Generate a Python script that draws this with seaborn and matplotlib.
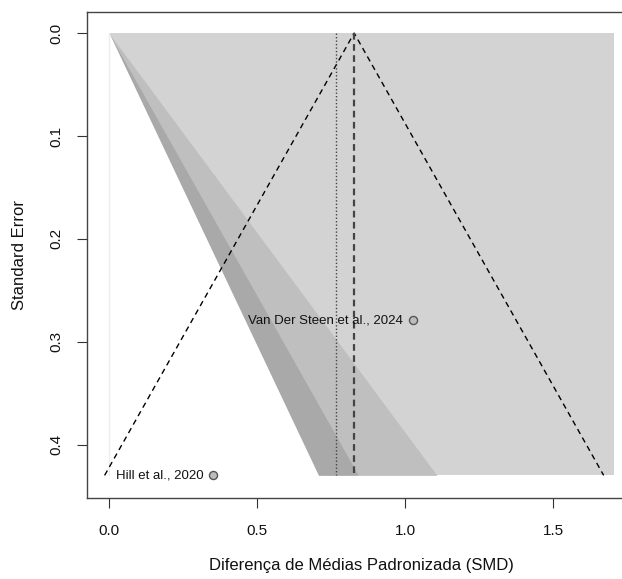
import numpy as np
import pandas as pd
import seaborn as sns
import matplotlib.pyplot as plt

# study data
studies = ["Hill et al., 2020", "Van Der Steen et al., 2024"]
smd = [0.351, 1.027]
se = [0.430, 0.279]

# pooled estimate and second reference estimate
estimate = 0.828
alt_estimate = 0.767

# contour levels (z for 90%, 95%, 99%) and plot limits
z_levels = [1.645, 1.960, 2.576]
x_max = 1.706
y_ticks = [0.0, 0.1, 0.2, 0.3, 0.4]
x_ticks = [0.0, 0.5, 1.0, 1.5]

df = pd.DataFrame({"study": studies, "smd": smd, "se": se})
se_max = df["se"].max()

sns.set_theme(style="white")
plt.rcParams["font.family"] = ["Liberation Sans", "DejaVu Sans"]

fig = plt.figure(figsize=(6.22, 5.79), dpi=100)
ax = fig.add_axes([87 / 622, 81 / 579, (636 - 87) / 622, (498 - 12) / 579])

# contour-enhanced background
se_grid = np.linspace(0, se_max, 200)
ax.fill_between([0, x_max], 0, se_max, color="#d3d3d3", lw=0, zorder=1)
ax.fill_betweenx(se_grid, z_levels[1] * se_grid, z_levels[2] * se_grid,
                 color="#bfbfbf", lw=0, zorder=2)
ax.fill_betweenx(se_grid, z_levels[0] * se_grid, z_levels[1] * se_grid,
                 color="#a9a9a9", lw=0, zorder=2)
ax.fill_betweenx(se_grid, 0, z_levels[0] * se_grid, color="white", lw=0, zorder=2)
ax.plot([0, 0], [0, se_max], color="#eeeeee", lw=1, zorder=3)

# funnel lines around the pooled estimate
funnel = pd.DataFrame({
    "x": [estimate - 1.96 * se_max, estimate, estimate + 1.96 * se_max],
    "y": [se_max, 0, se_max],
})
sns.lineplot(data=funnel, x="x", y="y", sort=False, color="black", lw=1,
             linestyle=(0, (4, 3)), ax=ax, zorder=4)
ax.plot([estimate, estimate], [0, se_max], color="#444444", lw=1.6,
        linestyle=(0, (3, 2)), zorder=4)
ax.plot([alt_estimate, alt_estimate], [0, se_max], color="#444444", lw=1,
        linestyle=(0, (1, 1.5)), zorder=4)

# studies
sns.scatterplot(data=df, x="smd", y="se", s=34, color="#bdbdbd",
                edgecolor="#555555", linewidth=1, ax=ax, zorder=5)
for _, row in df.iterrows():
    ax.annotate(row["study"], (row["smd"], row["se"]), xytext=(-7, 0),
                textcoords="offset points", ha="right", va="center",
                fontsize=9.5, color="#111111", zorder=6)

ax.set_xlim(-0.0743, 1.78)
ax.set_ylim(0.452, -0.0205)
ax.set_xticks(x_ticks)
ax.set_xticklabels([f"{v:.1f}" for v in x_ticks])
ax.set_yticks(y_ticks)
ax.set_yticklabels([f"{v:.1f}" for v in y_ticks], rotation=90, va="center")
ax.tick_params(axis="both", which="major", direction="out", length=7,
               width=0.8, color="#333333", labelsize=11, labelcolor="#111111",
               left=True, bottom=True)
ax.tick_params(axis="x", pad=12)
ax.tick_params(axis="y", pad=10)
for spine in ax.spines.values():
    spine.set_color("#444444")
    spine.set_linewidth(1)

ax.set_xlabel("Diferença de Médias Padronizada (SMD)", fontsize=12,
              color="#111111", labelpad=14)
ax.set_ylabel("Standard Error", fontsize=12, color="#111111", labelpad=16)

fig.savefig("out.png", dpi=100)
